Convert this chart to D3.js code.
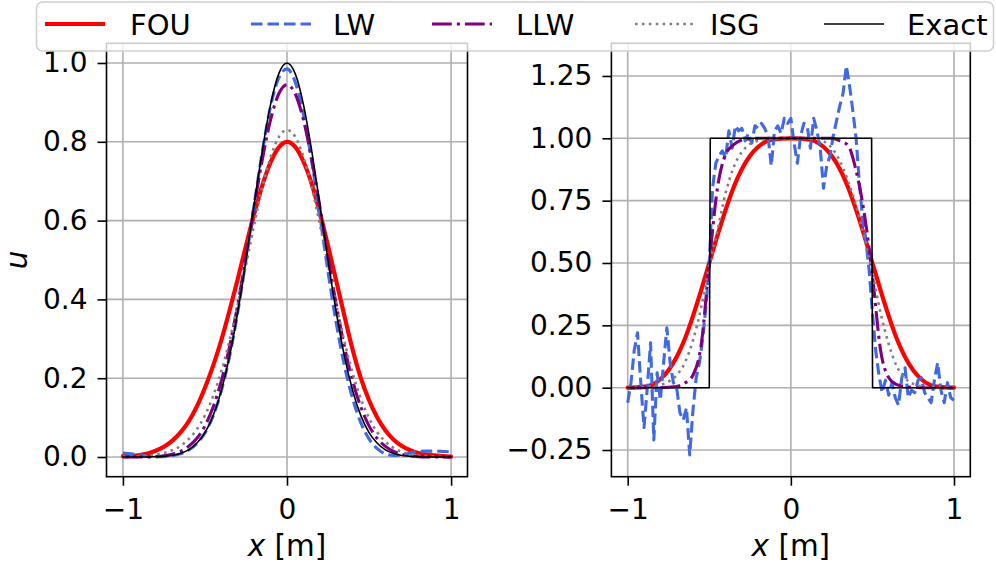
<!DOCTYPE html>
<html><head><meta charset="utf-8">
<script src="https://cdn.jsdelivr.net/npm/d3@7"></script>
<style>body{margin:0;background:#fff}svg{display:block}</style>
</head><body><div id="c"></div>
<script>
// ---------- data ----------
const seriesNames = ["FOU","LW","LLW","ISG","Exact"];
const xGrid = [-1.00,-0.95,-0.90,-0.85,-0.80,-0.75,-0.70,-0.65,-0.60,-0.55,-0.50,-0.45,-0.40,-0.35,-0.30,-0.25,-0.20,-0.15,-0.10,-0.05,0.00,
               0.05,0.10,0.15,0.20,0.25,0.30,0.35,0.40,0.45,0.50,0.55,0.60,0.65,0.70,0.75,0.80,0.85,0.90,0.95,1.00];
// left panel (Gaussian)
const gExact = [0.000,0.000,0.000,0.000,0.001,0.002,0.004,0.009,0.018,0.035,0.062,0.105,0.169,0.256,0.368,0.499,0.641,0.779,0.895,0.973,1.000,
                0.973,0.895,0.779,0.641,0.499,0.368,0.256,0.169,0.105,0.062,0.035,0.018,0.009,0.004,0.002,0.001,0.000,0.000,0.000,0.000];
const gFOU = [0.002,0.003,0.005,0.009,0.016,0.026,0.041,0.062,0.090,0.128,0.176,0.232,0.297,0.372,0.452,0.536,0.617,0.690,0.748,0.786,0.800,
              0.787,0.750,0.694,0.620,0.536,0.447,0.358,0.272,0.200,0.144,0.100,0.067,0.044,0.028,0.017,0.010,0.006,0.004,0.002,0.001];
const gLW = [0.010,0.008,0.005,0.002,0.001,0.001,0.003,0.008,0.017,0.034,0.061,0.104,0.168,0.256,0.368,0.500,0.641,0.776,0.890,0.962,0.985,
             0.952,0.870,0.752,0.613,0.470,0.340,0.232,0.148,0.087,0.046,0.021,0.008,0.004,0.005,0.010,0.014,0.015,0.015,0.014,0.013];
const gLLW = [0.000,0.000,0.000,0.000,0.001,0.003,0.007,0.014,0.027,0.047,0.079,0.127,0.193,0.280,0.387,0.508,0.636,0.756,0.856,0.922,0.945,
              0.922,0.856,0.756,0.636,0.508,0.387,0.280,0.193,0.127,0.079,0.047,0.027,0.014,0.007,0.003,0.001,0.000,0.000,0.000,0.000];
const gISG = [0.001,0.001,0.002,0.003,0.006,0.010,0.017,0.028,0.045,0.070,0.106,0.155,0.218,0.296,0.387,0.487,0.590,0.685,0.761,0.812,0.830,
              0.813,0.762,0.686,0.591,0.488,0.386,0.293,0.213,0.148,0.099,0.063,0.039,0.023,0.013,0.007,0.004,0.002,0.001,0.000,0.000];
// right panel (square wave)
const sFOU = [0.000,0.001,0.004,0.012,0.034,0.070,0.123,0.195,0.287,0.390,0.500,0.610,0.713,0.805,0.877,0.930,0.966,0.988,0.996,0.999,1.000,
              0.999,0.996,0.988,0.966,0.930,0.877,0.805,0.713,0.610,0.500,0.390,0.287,0.195,0.123,0.070,0.034,0.012,0.004,0.001,0.000];
const sLLW = [0.000,0.000,0.000,0.000,0.000,0.002,0.005,0.018,0.050,0.170,0.500,0.800,0.935,0.975,0.993,0.998,1.000,1.000,1.000,1.000,1.000,
              1.000,1.000,1.000,1.000,1.000,0.990,0.972,0.870,0.700,0.450,0.150,0.040,0.012,0.004,0.001,0.000,0.000,0.000,0.000,0.000];
const sISG = [0.000,0.001,0.002,0.005,0.011,0.024,0.050,0.100,0.190,0.320,0.490,0.630,0.780,0.885,0.945,0.977,0.990,0.997,1.000,1.000,1.000,
              1.000,1.000,0.997,0.988,0.962,0.910,0.830,0.730,0.600,0.460,0.300,0.175,0.085,0.038,0.015,0.006,0.002,0.001,0.000,0.000];
const sExactX = [-1.00,-0.500,-0.494,0.495,0.501,1.00];
const sExact  = [0,0,1,1,0,0];
const lwX = [-1.00,-0.98,-0.96,-0.94,-0.92,-0.90,-0.88,-0.86,-0.84,-0.82,-0.80,-0.78,-0.76,-0.74,-0.72,-0.70,-0.68,-0.66,-0.64,-0.62,-0.60,
             -0.58,-0.56,-0.54,-0.52,-0.50,-0.48,-0.46,-0.44,-0.42,-0.40,-0.38,-0.36,-0.34,-0.32,-0.30,-0.28,-0.26,-0.24,-0.22,-0.20,
             -0.18,-0.16,-0.14,-0.12,-0.10,-0.08,-0.06,-0.04,-0.02,0.00,0.02,0.04,0.06,0.08,0.10,0.12,0.14,0.16,0.18,0.20,
             0.22,0.24,0.26,0.28,0.30,0.32,0.34,0.36,0.38,0.40,0.42,0.44,0.46,0.48,0.50,0.52,0.54,0.56,0.58,0.60,
             0.62,0.64,0.66,0.68,0.70,0.72,0.74,0.76,0.78,0.80,0.82,0.84,0.86,0.88,0.90,0.92,0.94,0.96,0.98,1.00];
const sLW = [-0.06,0.02,0.15,0.22,0.02,-0.16,0.00,0.18,-0.21,0.06,-0.05,0.10,0.24,0.10,0.02,0.00,-0.10,-0.13,-0.08,-0.27,-0.09,
             0.04,0.10,0.20,0.33,0.50,0.80,0.90,0.93,0.95,0.92,1.03,0.96,1.05,1.03,1.04,0.99,1.02,0.98,1.05,1.04,
             1.06,1.04,1.01,0.89,1.03,1.05,1.02,1.08,1.06,1.08,0.98,0.90,1.01,1.06,1.05,0.96,1.08,1.03,0.96,0.80,
             0.89,0.93,1.01,1.07,1.13,1.18,1.29,1.21,1.11,1.00,0.82,0.68,0.59,0.47,0.30,0.15,0.05,-0.02,0.03,-0.03,
             0.02,-0.04,-0.07,0.04,0.08,-0.04,-0.01,-0.02,0.03,0.04,-0.02,-0.04,-0.06,0.03,0.10,-0.01,-0.06,0.02,-0.04,-0.05];
const xTicks = [-1,0,1];
const yTicksL = [0.0,0.2,0.4,0.6,0.8,1.0];
const yTicksR = [-0.25,0.00,0.25,0.50,0.75,1.00,1.25];

// ---------- styles ----------
const styles = {
  FOU:   {color:"#ff0000", w:4.2, dash:null},
  LW:    {color:"#4169e1", w:3.1, dash:"11.5,5"},
  LLW:   {color:"#800080", w:3.1, dash:"19.8,5,3.1,5"},
  ISG:   {color:"#808080", w:2.6, dash:"2.6,4.3"},
  Exact: {color:"#000000", w:1.6, dash:null}
};
const FONT = "'DejaVu Sans', sans-serif";
const W = 996, H = 567;
const svg = d3.select("#c").append("svg").attr("width",W).attr("height",H);

function panel(id, px0, px1, ydom, yTicks, yfmt, series, showYLabel){
  const py0 = 43.3, py1 = 476.7;
  const x = d3.scaleLinear().domain([-1.1,1.1]).range([px0,px1]);
  const y = d3.scaleLinear().domain(ydom).range([py1,py0]);
  const g = svg.append("g");
  svg.append("clipPath").attr("id",id).append("rect").attr("x",px0).attr("y",py0).attr("width",px1-px0).attr("height",py1-py0);
  // grid
  g.selectAll(".gx").data(xTicks).join("line").attr("x1",d=>x(d)).attr("x2",d=>x(d)).attr("y1",py0).attr("y2",py1)
    .attr("stroke","#b0b0b0").attr("stroke-width",1.6);
  g.selectAll(".gy").data(yTicks).join("line").attr("y1",d=>y(d)).attr("y2",d=>y(d)).attr("x1",px0).attr("x2",px1)
    .attr("stroke","#b0b0b0").attr("stroke-width",1.6);
  // series
  const lg = g.append("g").attr("clip-path",`url(#${id})`);
  series.forEach(s=>{
    const st = styles[s.name];
    const pts = s.xs.map((xv,i)=>[xv,s.ys[i]]);
    const line = d3.line().x(d=>x(d[0])).y(d=>y(d[1])).curve(s.curve||d3.curveLinear);
    lg.append("path").attr("d",line(pts)).attr("fill","none").attr("stroke",st.color).attr("stroke-width",st.w)
      .attr("stroke-dasharray",st.dash).attr("stroke-linejoin","round").attr("stroke-linecap", st.dash? "butt":"round");
  });
  // axes
  const ax = g.append("g").attr("transform",`translate(0,${py1})`)
    .call(d3.axisBottom(x).tickValues(xTicks).tickFormat(d3.format("d")).tickSizeInner(9).tickSizeOuter(0).tickPadding(13));
  const ay = g.append("g").attr("transform",`translate(${px0},0)`)
    .call(d3.axisLeft(y).tickValues(yTicks).tickFormat(d3.format(yfmt)).tickSizeInner(9).tickSizeOuter(0).tickPadding(10));
  [ax,ay].forEach(a=>{
    a.select(".domain").remove();
    a.selectAll("line").attr("stroke","#000").attr("stroke-width",1.6);
    a.selectAll("text").attr("font-family",FONT).attr("font-size",28).attr("fill","#000");
  });
  ax.selectAll("text").attr("dy","0.71em");
  // spines
  g.append("rect").attr("x",px0).attr("y",py0).attr("width",px1-px0).attr("height",py1-py0)
    .attr("fill","none").attr("stroke","#000").attr("stroke-width",1.6);
  // x label
  const xl = g.append("text").attr("x",(px0+px1)/2).attr("y",556).attr("text-anchor","middle")
    .attr("font-family",FONT).attr("font-size",29.5).attr("fill","#000");
  xl.append("tspan").attr("font-style","italic").text("x");
  xl.append("tspan").text(" [m]");
  if(showYLabel){
    g.append("text").attr("transform",`translate(27,${(py0+py1)/2}) rotate(-90)`).attr("text-anchor","middle")
      .attr("font-family",FONT).attr("font-size",29.5).attr("font-style","italic").text("u");
  }
}

panel("clipL",106.5,467.5,[-0.05,1.05],yTicksL,".1f",[
  {name:"FOU",xs:xGrid,ys:gFOU,curve:d3.curveMonotoneX},
  {name:"LW",xs:xGrid,ys:gLW,curve:d3.curveMonotoneX},
  {name:"LLW",xs:xGrid,ys:gLLW,curve:d3.curveMonotoneX},
  {name:"ISG",xs:xGrid,ys:gISG,curve:d3.curveMonotoneX},
  {name:"Exact",xs:xGrid,ys:gExact,curve:d3.curveMonotoneX}
], true);

panel("clipR",611.4,970.3,[-0.357,1.381],yTicksR,".2f",[
  {name:"FOU",xs:xGrid,ys:sFOU,curve:d3.curveMonotoneX},
  {name:"LW",xs:lwX,ys:sLW},
  {name:"LLW",xs:xGrid,ys:sLLW,curve:d3.curveMonotoneX},
  {name:"ISG",xs:xGrid,ys:sISG,curve:d3.curveMonotoneX},
  {name:"Exact",xs:sExactX,ys:sExact}
], false);

// ---------- legend ----------
const leg = svg.append("g");
leg.append("rect").attr("x",36.5).attr("y",2).attr("width",957).attr("height",49).attr("rx",6)
  .attr("fill","#fff").attr("fill-opacity",0.8).attr("stroke","#d0d0d0").attr("stroke-width",1.6);
const legPos = [[45,130],[251,333],[432,516],[635,710],[824,907]];
seriesNames.forEach((n,i)=>{
  const st = styles[n], p = legPos[i];
  leg.append("line").attr("x1",p[0]).attr("x2",p[0]+60).attr("y1",24).attr("y2",24)
    .attr("stroke",st.color).attr("stroke-width",st.w).attr("stroke-dasharray",st.dash);
  leg.append("text").attr("x",p[1]).attr("y",35).attr("font-family",FONT).attr("font-size",29).attr("fill","#000").text(n);
});
</script></body></html>
